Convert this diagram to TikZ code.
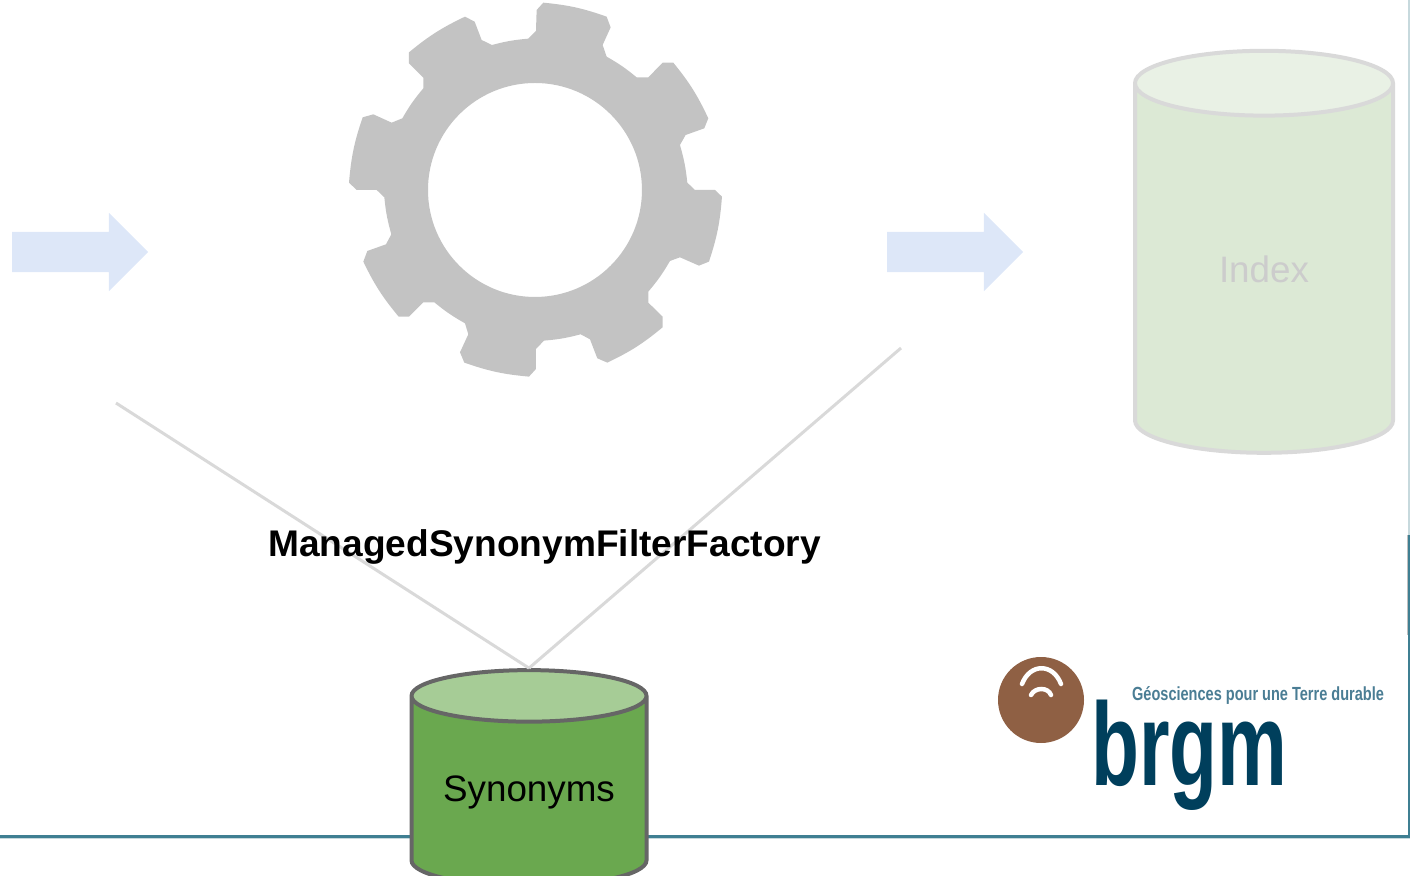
\documentclass[tikz,border=0pt]{standalone}
\usepackage{fontspec}
\setmainfont{Liberation Sans}
\usepackage{tikz}
\usetikzlibrary{shapes.geometric,shapes.arrows}
\definecolor{framecol}{HTML}{3F7F92}
\definecolor{framelight}{HTML}{C7D9DD}
\definecolor{gearcol}{HTML}{C3C3C3}
\definecolor{flowcol}{HTML}{DDE7F8}
\definecolor{linkcol}{HTML}{D9D9D9}
\definecolor{dbfill}{HTML}{6AA84F}
\definecolor{dbtop}{HTML}{A6CC96}
\definecolor{dbline}{HTML}{666666}
\definecolor{idxfill}{HTML}{DCE9D5}
\definecolor{idxtop}{HTML}{E9F1E5}
\definecolor{logobrown}{HTML}{8F6044}
\definecolor{logoblue}{HTML}{003F5C}
\definecolor{logolight}{HTML}{4A7D94}
\tikzset{
  flow/.style={single arrow,fill=flowcol,inner xsep=0pt,inner ysep=20pt,minimum height=136pt,minimum width=78pt,
    single arrow head extend=19pt,single arrow tip angle=90},
  db/.style={cylinder,shape border rotate=90,cylinder uses custom fill,inner sep=0pt,anchor=center},
  link/.style={linkcol,line width=3pt},
  logoarc/.style={white,line width=4.5pt,line cap=round}
}
\begin{document}
\begin{tikzpicture}[x=1pt,y=-1pt]
      \useasboundingbox (0,0) rectangle (1410,875);
      % frame
      \draw[framelight,line width=2.6pt] (1409,0) -- (1409,535);
      \draw[black!25,line width=1pt] (1407.5,535) -- (1407.5,635);
      \draw[framelight,line width=1pt] (0,838.5) -- (1410,838.5);
      \draw[framecol,line width=2.8pt] (1409,535) -- (1409,836.5) -- (0,836.5);

      % gear
      \begin{scope}[shift={(340,0)},x=.3333pt,y=-.3333pt]
        \fill[gearcol,even odd rule] (590,30) -- (610,8) to[bend left=7] (800,50) -- (812,82) -- (788,135) -- (800,170)
          to[bend left=5] (890,232) -- (925,232) -- (968,188) -- (1000,188) to[bend left=7] (1105,355) -- (1093,385)
          -- (1037,405) -- (1020,435) to[bend left=5] (1042,548) -- (1065,570) -- (1125,570) -- (1146,590)
          to[bend left=7] (1107,785) -- (1077,797) -- (1020,772) -- (990,783) to[bend left=5] (925,875) -- (925,908)
          -- (968,950) -- (968,982) to[bend left=7] (802,1088) -- (772,1075) -- (750,1018) -- (722,1003)
          to[bend left=5] (612,1022) -- (588,1047) -- (588,1107) -- (567,1130) to[bend left=7] (373,1088) -- (360,1057)
          -- (385,1003) -- (375,970) to[bend left=5] (283,907) -- (250,907) -- (207,950) -- (176,950)
          to[bend left=7] (70,785) -- (82,753) -- (138,733) -- (154,703) to[bend left=5] (133,592) -- (110,570)
          -- (50,570) -- (27,548) to[bend left=7] (68,352) -- (100,343) -- (155,368) -- (187,355)
          to[bend left=5] (250,265) -- (250,233) -- (207,190) -- (207,157) to[bend left=7] (375,50) -- (404,65)
          -- (425,120) -- (456,135) to[bend left=5] (565,116) -- (588,93) -- cycle
          (585,570) circle[radius=321];
      \end{scope}

      \node[flow] (flowin) at (70,252) {};
      \node[flow] (flowout) at (945,252) {};

      \node[db,draw=linkcol,line width=4pt,cylinder body fill=idxfill,cylinder end fill=idxtop,
        text=black!20,minimum width=258pt,minimum height=402pt,aspect=.72,font=\fontsize{36.8}{40}\selectfont] (index) at (1264,269) {Index};
      \coordinate (linkleft) at (116,403);
      \coordinate (linkright) at (901,348);
      \node[db,draw=dbline,line width=4pt,cylinder body fill=dbfill,cylinder end fill=dbtop,
        minimum width=235pt,minimum height=216pt,aspect=.3,font=\fontsize{36.8}{40}\selectfont] (synonyms) at (529,792) {Synonyms};
      \draw[link] (linkleft) -- (synonyms.north);
      \draw[link] (linkright) -- (synonyms.north);
      \node[font=\bfseries\fontsize{37.1}{40}\selectfont] (factory) at (544.5,546.5) {ManagedSynonymFilterFactory};

      % logo
      \node[circle,fill=logobrown,minimum size=86pt,inner sep=0pt] (logoball) at (1041,700) {};
      \draw[logoarc] (1022,684) .. controls (1030,663) and (1053,663) .. (1061,684);
      \draw[logoarc] (1031,695) .. controls (1035,687) and (1048,687) .. (1051,695);
      \node[logoblue,font=\bfseries\fontsize{118}{120}\selectfont,xscale=.665,inner sep=0pt,anchor=base west] (brgm) at (1091,785) {brgm};
      \node[logolight,font=\bfseries\fontsize{19}{22}\selectfont,xscale=.765,inner sep=0pt,anchor=base west] (slogan) at (1132,700) {Géosciences pour une Terre durable};
    \end{tikzpicture}
\end{document}
